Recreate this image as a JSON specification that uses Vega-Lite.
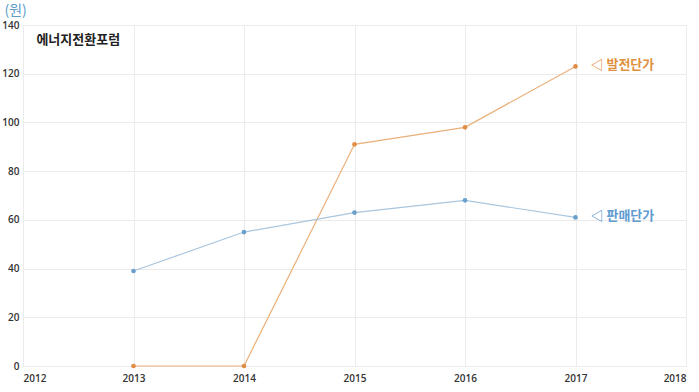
{
  "$schema": "https://vega.github.io/schema/vega-lite/v6.json",
  "width": 663,
  "height": 341,
  "autosize": {"type": "none"},
  "padding": {"left": 23, "top": 25, "right": 13, "bottom": 26},
  "background": "white",
  "config": {
    "view": {"stroke": null},
    "font": "Open Sans",
    "axis": {
      "gridColor": "#ebebeb",
      "gridWidth": 1,
      "domain": false,
      "ticks": false,
      "labelColor": "#333333",
      "labelFontSize": 10,
      "labelFont": "Open Sans"
    }
  },
  "datasets": {
    "prices": [
      {"year": 2013, "series": "발전단가", "value": 0},
      {"year": 2014, "series": "발전단가", "value": 0},
      {"year": 2015, "series": "발전단가", "value": 91},
      {"year": 2016, "series": "발전단가", "value": 98},
      {"year": 2017, "series": "발전단가", "value": 123},
      {"year": 2013, "series": "판매단가", "value": 39},
      {"year": 2014, "series": "판매단가", "value": 55},
      {"year": 2015, "series": "판매단가", "value": 63},
      {"year": 2016, "series": "판매단가", "value": 68},
      {"year": 2017, "series": "판매단가", "value": 61}
    ],
    "labels": [
      {"year": 2017, "series": "발전단가", "value": 123, "label": "◁ 발전단가"},
      {"year": 2017, "series": "판매단가", "value": 61, "label": "◁ 판매단가"}
    ]
  },
  "layer": [
    {
      "data": {"name": "prices"},
      "mark": {"type": "line", "strokeWidth": 1.2},
      "encoding": {
        "x": {
          "field": "year", "type": "quantitative",
          "scale": {"domain": [2012, 2018], "nice": false, "zero": false},
          "axis": {"title": null, "format": "d", "values": [2012, 2013, 2014, 2015, 2016, 2017, 2018], "labelPadding": 7, "labelFontWeight": 600}
        },
        "y": {
          "field": "value", "type": "quantitative",
          "scale": {"domain": [0, 140], "nice": false},
          "axis": {
            "title": "(원)", "values": [0, 20, 40, 60, 80, 100, 120, 140],
            "labelPadding": 4, "labelFontWeight": 600, "labelFontSize": 10,
            "titleAngle": 0, "titleX": -19, "titleY": -15, "titleAlign": "left", "titleBaseline": "middle",
            "titleColor": "#5b9bc8", "titleFontSize": 14, "titleFont": "Noto Sans CJK KR", "titleFontWeight": "normal"
          }
        },
        "color": {
          "field": "series", "type": "nominal",
          "scale": {"domain": ["발전단가", "판매단가"], "range": ["#eab07a", "#a9c6de"]},
          "legend": null
        }
      }
    },
    {
      "data": {"name": "prices"},
      "mark": {"type": "circle", "size": 22, "opacity": 1},
      "encoding": {
        "x": {"field": "year", "type": "quantitative"},
        "y": {"field": "value", "type": "quantitative"},
        "color": {
          "field": "series", "type": "nominal",
          "scale": {"domain": ["발전단가", "판매단가"], "range": ["#e08d45", "#6a9fcc"]},
          "legend": null
        }
      }
    },
    {
      "data": {"name": "labels"},
      "mark": {"type": "text", "align": "left", "baseline": "middle", "dx": 15, "dy": -1, "fontSize": 13, "fontWeight": "bold", "font": "Noto Sans CJK KR"},
      "encoding": {
        "x": {"field": "year", "type": "quantitative"},
        "y": {"field": "value", "type": "quantitative"},
        "text": {"field": "label"},
        "color": {
          "field": "series", "type": "nominal",
          "scale": {"domain": ["발전단가", "판매단가"], "range": ["#e0913f", "#5f9bcf"]},
          "legend": null
        }
      }
    },
    {
      "data": {"values": [{"logo": "에너지전환포럼"}]},
      "mark": {"type": "text", "align": "center", "baseline": "middle", "fontSize": 13, "fontWeight": "bold", "font": "Noto Sans CJK KR", "color": "#222222"},
      "encoding": {
        "x": {"datum": 2012.5, "type": "quantitative"},
        "y": {"datum": 134, "type": "quantitative"},
        "text": {"field": "logo"}
      }
    }
  ],
  "resolve": {"scale": {"color": "independent"}}
}
